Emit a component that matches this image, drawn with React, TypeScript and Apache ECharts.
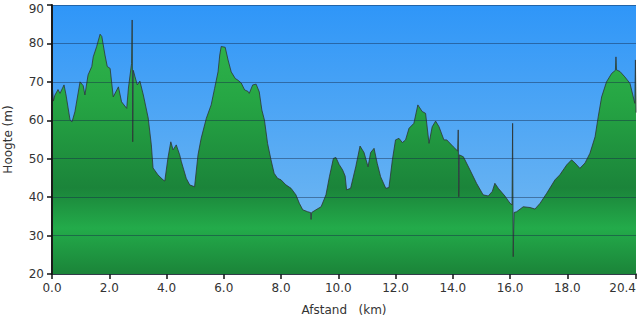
import { useEffect, useRef } from 'react';
import * as echarts from 'echarts';

const distanceKm = [
  0.0, 0.02, 0.05, 0.1, 0.21, 0.28, 0.42, 0.49, 0.63, 0.7, 0.8, 0.98, 1.09, 1.15, 1.26, 1.39, 1.44, 1.56, 1.68, 1.74,
  1.85, 1.93, 2.03, 2.14, 2.32, 2.43, 2.61, 2.67, 2.78, 2.8, 2.82, 2.84, 2.9, 2.98, 3.07, 3.19, 3.36, 3.47, 3.53, 3.7,
  3.88, 3.94, 4.05, 4.15, 4.23, 4.34, 4.46, 4.52, 4.69, 4.81, 4.98, 5.1, 5.21, 5.39, 5.56, 5.68, 5.8, 5.86, 5.91, 6.05,
  6.15, 6.26, 6.4, 6.5, 6.61, 6.73, 6.85, 6.89, 7.01, 7.13, 7.24, 7.33, 7.42, 7.53, 7.65, 7.76, 7.88, 8.0, 8.17, 8.35,
  8.52, 8.64, 8.76, 8.93, 9.03, 9.05, 9.07, 9.22, 9.4, 9.57, 9.69, 9.83, 9.92, 10.03, 10.15, 10.24, 10.29, 10.43, 10.61, 10.76,
  10.9, 11.04, 11.13, 11.25, 11.36, 11.48, 11.66, 11.77, 11.89, 12.0, 12.12, 12.24, 12.35, 12.47, 12.64, 12.78, 12.93, 13.05, 13.17, 13.28,
  13.4, 13.52, 13.69, 13.79, 14.02, 14.17, 14.19, 14.21, 14.23, 14.37, 14.6, 14.83, 15.06, 15.24, 15.38, 15.47, 15.59, 15.82, 16.0, 16.07,
  16.09, 16.11, 16.14, 16.23, 16.46, 16.7, 16.87, 17.05, 17.28, 17.57, 17.74, 17.98, 18.15, 18.27, 18.44, 18.62, 18.79, 18.97, 19.08, 19.2,
  19.37, 19.55, 19.68, 19.7, 19.72, 19.84, 20.01, 20.19, 20.36, 20.38, 20.4,
];

const elevationM = [
  68.4, 67.9, 65.0, 66.5, 68.0, 67.0, 69.2, 66.6, 60.1, 59.6, 62.2, 70.0, 69.0, 66.6, 71.8, 74.0, 76.5, 79.2, 82.4, 81.8,
  77.0, 74.0, 73.5, 66.1, 68.7, 64.8, 63.1, 68.4, 74.8, 86.1, 54.4, 73.0, 71.3, 69.2, 70.2, 66.6, 60.6, 53.6, 47.6, 45.8,
  44.5, 44.2, 50.2, 54.4, 52.3, 53.6, 51.0, 49.2, 44.9, 43.2, 42.7, 51.0, 55.3, 60.5, 64.0, 68.3, 72.6, 77.0, 79.2, 79.0,
  75.7, 72.6, 70.9, 70.4, 69.7, 67.9, 67.5, 67.0, 69.2, 69.4, 67.4, 62.7, 60.1, 54.0, 49.7, 46.2, 44.9, 44.5, 43.2, 42.3,
  40.6, 38.4, 36.7, 36.2, 36.0, 34.2, 36.0, 36.7, 37.5, 40.6, 45.3, 50.1, 50.3, 48.5, 47.1, 45.5, 41.9, 42.3, 47.9, 53.3,
  51.6, 47.9, 51.6, 52.7, 48.8, 45.3, 42.3, 42.5, 49.7, 54.9, 55.3, 54.2, 54.9, 57.9, 59.2, 64.0, 62.3, 61.8, 54.0, 58.3,
  59.8, 58.3, 54.9, 54.9, 53.1, 52.0, 57.5, 40.1, 51.0, 50.5, 47.1, 43.6, 40.6, 40.3, 41.5, 43.6, 42.3, 40.3, 38.4, 38.0,
  59.2, 24.5, 36.0, 36.2, 37.5, 37.3, 36.9, 38.4, 41.0, 44.5, 45.8, 48.4, 49.7, 48.9, 47.5, 48.9, 51.4, 55.7, 60.9, 66.1,
  70.0, 72.2, 73.0, 76.5, 73.1, 72.7, 71.3, 69.6, 64.4, 75.7, 62.0,
];

const xTickValues = [0, 2, 4, 6, 8, 10, 12, 14, 16, 18, 20.4];
const yMin = 20;
const yMax = 90;
const yStep = 10;

const FONT = 'DejaVu Sans';

export default function App() {
  const ref = useRef<HTMLDivElement>(null);

  useEffect(() => {
    const chart = echarts.init(ref.current!, null, { renderer: 'svg' });
    const points = distanceKm.map((d, i) => [d, elevationM[i]]);
    chart.setOption({
      animation: false,
      grid: {
        left: 52,
        right: 4,
        top: 5,
        bottom: 49,
        containLabel: false,
        outerBoundsMode: 'none',
        show: true,
        borderWidth: 0,
        backgroundColor: new echarts.graphic.LinearGradient(0, 0, 0, 1, [
          { offset: 0, color: '#2f96f8' },
          { offset: 1, color: '#7cbdf0' },
        ]),
      },
      xAxis: {
        type: 'value',
        min: 0,
        max: 20.4,
        name: 'Afstand   (km)',
        nameLocation: 'middle',
        nameGap: 30,
        nameTextStyle: { fontFamily: FONT, fontSize: 12, color: '#333' },
        axisLine: { show: true, onZero: false, lineStyle: { color: '#111', width: 1.5 } },
        axisTick: {
          show: true,
          length: 5,
          customValues: xTickValues,
          lineStyle: { color: '#111', width: 1.5 },
        },
        axisLabel: {
          customValues: xTickValues,
          formatter: (v: number) => v.toFixed(1),
          alignMaxLabel: 'right',
          margin: 8,
          fontFamily: FONT,
          fontSize: 12,
          color: '#333',
        },
        splitLine: { show: false },
      },
      yAxis: {
        type: 'value',
        min: yMin,
        max: yMax,
        interval: yStep,
        z: 10,
        name: 'Hoogte (m)',
        nameLocation: 'middle',
        nameGap: 38,
        nameTextStyle: { fontFamily: FONT, fontSize: 12, color: '#333' },
        axisLine: { show: true, lineStyle: { color: '#1a1a1a', width: 2 } },
        axisTick: { show: true, length: 5, lineStyle: { color: '#111', width: 1.5 } },
        axisLabel: {
          margin: 8,
          fontFamily: FONT,
          fontSize: 12,
          color: '#333',
          formatter: (v: number) => (v === yMax ? `{top|${v}}` : `${v}`),
          rich: {
            top: { fontFamily: FONT, fontSize: 12, color: '#333', padding: [7, 0, 0, 0] },
          },
        },
        splitLine: { show: true, lineStyle: { color: 'rgba(20,40,70,0.45)', width: 1 } },
      },
      series: [
        {
          type: 'line',
          data: points,
          symbol: 'none',
          z: 2,
          lineStyle: { color: '#2e3535', width: 1, opacity: 0.8 },
          areaStyle: {
            origin: 'start',
            opacity: 1,
            color: new echarts.graphic.LinearGradient(0, 5, 0, 274, [
              { offset: 0, color: '#33bb50' },
              { offset: 0.35, color: '#26a644' },
              { offset: 0.68, color: '#1b843a' },
              { offset: 0.83, color: '#23ab4a' },
              { offset: 1, color: '#1b8439' },
            ], true),
          },
        },
      ],
    });
    return () => chart.dispose();
  }, []);

  return (
    <div
      ref={ref}
      style={{ position: 'absolute', left: 0, top: 0, width: 640, height: 323 }}
    />
  );
}
